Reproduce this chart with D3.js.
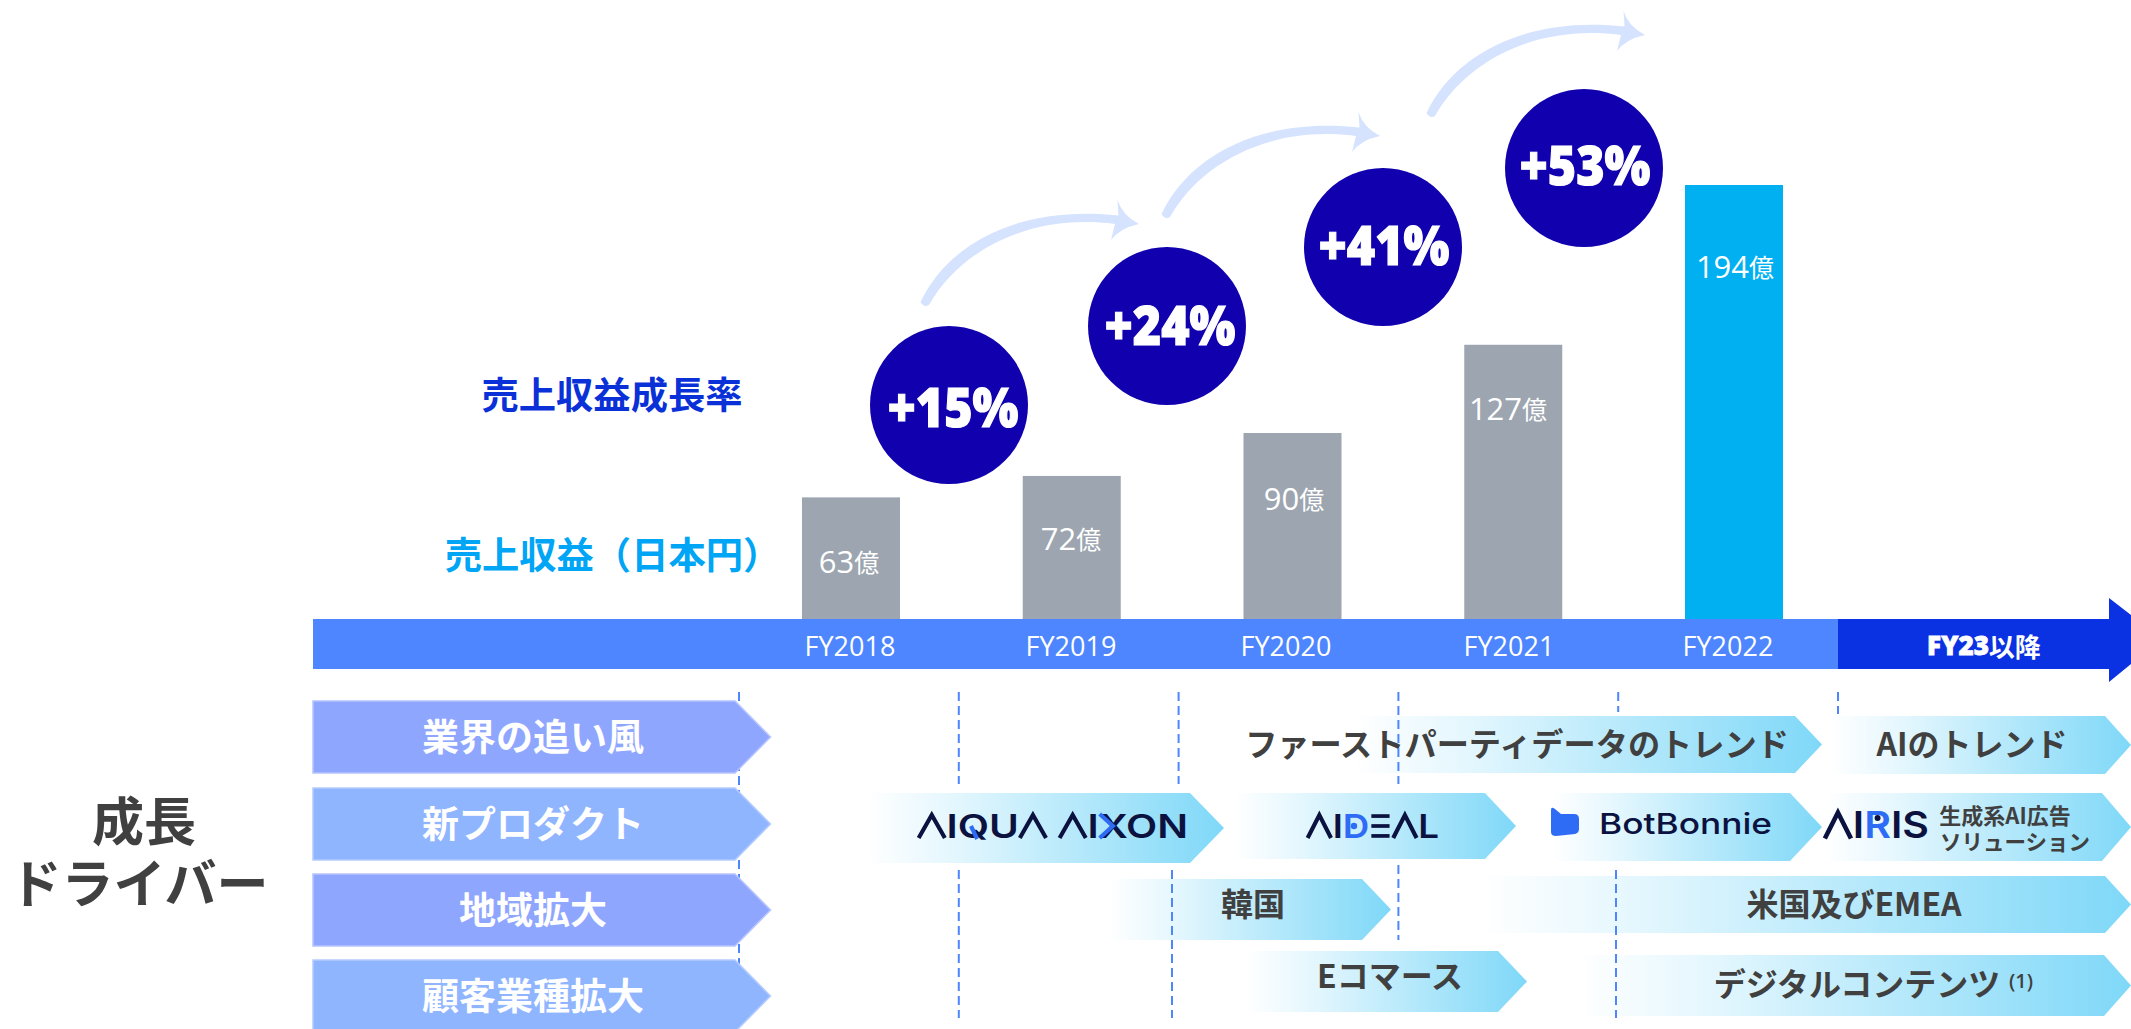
<!DOCTYPE html>
<html><head><meta charset="utf-8">
<script src="https://cdn.jsdelivr.net/npm/d3@7"></script>
<style>html,body{margin:0;background:#fff;overflow:hidden}svg{display:block}</style></head>
<body><script>
const fiscalYears=["FY2018","FY2019","FY2020","FY2021","FY2022"];
const revenue=[63,72,90,127,194];
const growth=["+15%","+24%","+41%","+53%"];
const drivers=["業界の追い風","新プロダクト","地域拡大","顧客業種拡大"];
const W=2131,H=1029;
const jp='"Noto Sans CJK JP","Noto Sans",sans-serif',os='"Open Sans","Noto Sans CJK JP",sans-serif';
const svg=d3.select("body").append("svg").attr("width",W).attr("height",H);
const defs=svg.append("defs");
const g=defs.append("linearGradient").attr("id","fade");
g.append("stop").attr("offset",0).attr("stop-color","#7fd8f8").attr("stop-opacity",0);
g.append("stop").attr("offset",.25).attr("stop-color","#7fd8f8").attr("stop-opacity",.22);
g.append("stop").attr("offset",1).attr("stop-color","#7fd8f8");
const x=d3.scaleBand().domain(fiscalYears).range([740.6,1844.4]);
const y=d3.scaleLinear().domain([12,194]).range([619,185]);
const baseY=y(12);
const cx=f=>x(f)+x.bandwidth()/2;
function T(t,px,py,s,fill,w,a,fam){return svg.append("text").text(t).attr("x",px).attr("y",fam?py:py-3).attr("font-size",s).attr("fill",fill).attr("font-weight",w||400).attr("font-family",fam||jp).attr("text-anchor",a||"middle").attr("dominant-baseline","central");}
function T2(l1,l2,px,py1,py2,s,fill,w,s2,px2){
 const t=svg.append("text").attr("font-size",s).attr("fill",fill).attr("font-weight",w).attr("font-family",jp).attr("text-anchor","middle").attr("dominant-baseline","central");
 t.append("tspan").text(l1).attr("x",px).attr("y",py1-3);
 t.append("tspan").text(l2).attr("x",px2||px).attr("y",py2-3).attr("font-size",s2||s);
 return t;
}
const line=d3.line();
function chev(x0,x1,tip,y0,y1,fill,stroke){return svg.append("path").attr("d",line([[x0,y0],[x1,y0],[tip,(y0+y1)/2],[x1,y1],[x0,y1]])+"Z").attr("fill",fill).attr("stroke",stroke||"none").attr("stroke-width",stroke?1.5:0);}

// bars
svg.selectAll(".bar").data(revenue).join("rect").attr("class","bar")
 .attr("x",(d,i)=>cx(fiscalYears[i])-49).attr("width",98)
 .attr("y",d=>y(d)).attr("height",d=>baseY-y(d)).attr("fill",(d,i)=>i==4?"#00b0f0":"#9ca5b0");
const barLabelPos=[[849,561],[1071,538],[1294,498],[1508,408],[1735,266]];
revenue.forEach((d,i)=>{const t=T(d,barLabelPos[i][0],barLabelPos[i][1],31,"#fff",500,"middle",os);t.append("tspan").text("億").attr("font-size",25).attr("font-family",jp).attr("font-weight",400);});

// growth circles + arrows
const arrowShift=[[0,0],[241,-88],[506,-189]];
const arrowD="M920.5,302C950,240 1025,205 1118.5,215.5L1117.5,200Q1122,215 1139,224Q1120,228 1111,240L1115,224C1030,213 960,250 929,305Q924,308 920.5,302Z";
svg.selectAll(".arrow").data(arrowShift).join("path").attr("class","arrow").attr("d",arrowD).attr("fill","#d5e3ff").attr("transform",d=>`translate(${d[0]},${d[1]})`);
const circlePos=[[949,405],[1167,326],[1383,247],[1584,168]];
const growthTextPos=[[953,405],[1170,323],[1384,243],[1585,163]];
svg.selectAll(".g").data(growth).join("circle").attr("class","g").attr("cx",(d,i)=>circlePos[i][0]).attr("cy",(d,i)=>circlePos[i][1]).attr("r",79).attr("fill","#1000ae");
growth.forEach((d,i)=>T(d,growthTextPos[i][0],growthTextPos[i][1],55,"#fff",800,"middle",os).attr("stroke","#fff").attr("stroke-width",1.2).attr("textLength",131).attr("lengthAdjust","spacingAndGlyphs"));

// time axis
svg.append("rect").attr("x",313).attr("y",619).attr("width",1525).attr("height",50).attr("fill","#4d86ff");
svg.append("path").attr("d",line([[1838,619],[2109,619],[2109,598],[2131,615],[2131,664],[2109,682],[2109,669],[1838,669]])+"Z").attr("fill","#0a31e2");
const fyLabelX=[850,1071,1286,1509,1728];
fiscalYears.forEach((f,i)=>T(f,fyLabelX[i],645,27,"#fff",400,"middle",os));
const fy23=T("FY23",1984,645,26,"#fff",800,"middle",os).attr("stroke","#fff").attr("stroke-width",.8);
fy23.append("tspan").text("以降").attr("stroke","none").attr("font-family",jp).attr("font-weight",700);

// left labels
T("売上収益成長率",612,396,37.3,"#0a31d8",700);
T("売上収益（日本円）",612.5,556,37.3,"#00a5f5",700);
T2("成長","ドライバー",144,821,883,52,"#404040",700,52,139);

// dividers behind left chevrons
const divX=d3.scaleLinear().domain([0,5]).range([739,1838]);
function dash(px,a,b){svg.append("line").attr("x1",px).attr("x2",px).attr("y1",a).attr("y2",b).attr("stroke","#4d86ff").attr("stroke-width",2).attr("stroke-dasharray","9 5");}
dash(divX(0),692,1018);

// driver chevrons
const rowTop=[701,788,874,960];
drivers.forEach((d,i)=>{
 chev(313,735,770.5,rowTop[i],rowTop[i]+72,i%2?"#90b5ff":"#8fa6ff",i%2?"#b4ccff":"#b6c4ff");
 T(d,533,rowTop[i]+37,37,"#fff",700);
});

// gradient chevrons
const bands=[
 [1354,1795,1822,716,773],[1830,2105,2131,716,774],
 [867,1190,1224,793,863],[1234,1485,1516,793,859],[1552,1790,1822,793,861],[1826,2102,2131,793,861],
 [1108,1362,1391,879,940],[1480,2105,2131,876,933],
 [1245,1498,1527,951,1012],[1577,2104,2131,955,1016]];
bands.forEach(b=>chev(b[0],b[1],b[2],b[3],b[4],"url(#fade)"));
const c="#404040";
T("ファーストパーティデータのトレンド",1517,745,32.2,c,700);
T("AIのトレンド",1972,745,32,c,700);
T("韓国",1253,905,32,c,700);
T("米国及びEMEA",1854,905,32,c,700);
T("Eコマース",1390,977,32,c,700);
T("デジタルコンテンツ",1857,985,32,c,700);
T("(1)",2021,980,20,c,600,"middle",os);
T2("生成系AI広告","ソリューション",2005,817,843,22,c,700,21.5,2015);

// logos
const dark="#0b1240",blue="#2f6cf6";
function logo(str,x0,x1,cy,size,w,colors,hide){
 const cap=.727*size,top=cy-cap/2,bot=cy+cap/2,sw=size*.125;
 const t=svg.append("text").attr("x",x0).attr("y",bot).attr("font-size",size).attr("font-weight",w).attr("font-family","Inter,sans-serif").attr("textLength",x1-x0).attr("lengthAdjust","spacingAndGlyphs");
 [...str].forEach((ch,i)=>t.append("tspan").text(ch).attr("fill",(hide||"").includes(ch)?"transparent":(colors&&colors[i])||dark));
 const n=t.node();
 const out=[];
 [...str].forEach((ch,i)=>{ if(ch===" ")return;
  const e=n.getExtentOfChar(i);out.push({ch,i,x:e.x,w:e.width});
  if(ch==="A"&&(hide||"").includes("A")) svg.append("path").attr("d",line([[e.x+sw*.4,bot],[e.x+e.width/2,top+1],[e.x+e.width-sw*.4,bot]])).attr("fill","none").attr("stroke",dark).attr("stroke-width",sw);
  if(ch==="E"&&(hide||"").includes("E")) [top+sw/2,cy,bot-sw/2].forEach(yy=>svg.append("line").attr("x1",e.x+2).attr("x2",e.x+e.width-2).attr("y1",yy).attr("y2",yy).attr("stroke",dark).attr("stroke-width",sw*.9));
 });
 return {out,top,bot,sw,cy};
}
let L=logo("AIQUA AIXON",917,1188,826,33,600,null,"A");
L.out.filter(o=>o.ch==="Q").forEach(o=>svg.append("line").attr("x1",o.x+o.w*.42).attr("y1",L.cy).attr("x2",o.x+o.w*.62).attr("y2",L.bot+1).attr("stroke",blue).attr("stroke-width",L.sw));
L.out.filter(o=>o.ch==="X").forEach(o=>svg.append("path").attr("d",line([[o.x+1,L.top],[o.x+o.w*.52,L.cy],[o.x+1,L.bot]])).attr("fill","none").attr("stroke",blue).attr("stroke-width",L.sw));
L=logo("AIDEAL",1306,1439,826,33,600,{2:blue},"AE");
L.out.filter(o=>o.ch==="D").forEach(o=>svg.append("circle").attr("cx",o.x+o.w*.42).attr("cy",L.cy).attr("r",3.2).attr("fill",blue));
L=logo("BotBonnie",1599,1772,823,29,500);
L=logo("AIRIS",1823,1929,825,37,600,{2:blue},"A");
L.out.filter(o=>o.ch==="R").forEach(o=>svg.append("circle").attr("cx",o.x+o.w*.5).attr("cy",L.cy-7).attr("r",3).attr("fill",dark));
svg.append("path").attr("d","M1551,810Q1551,806 1555,809L1561,814L1574,814Q1579,814 1579,819L1579,829Q1579,833 1575,834L1556,836Q1551,836 1551,832Z").attr("fill",blue);

// dividers on top of bands
[[1,692,784],[1,870,1018],[2,692,784],[3,692,784],[3,865,940],[4,692,712],[5,692,714]].forEach(s=>dash(divX(s[0]),s[1],s[2]));
dash(1172,870,1018);dash(1616,870,1018);
</script></body></html>
